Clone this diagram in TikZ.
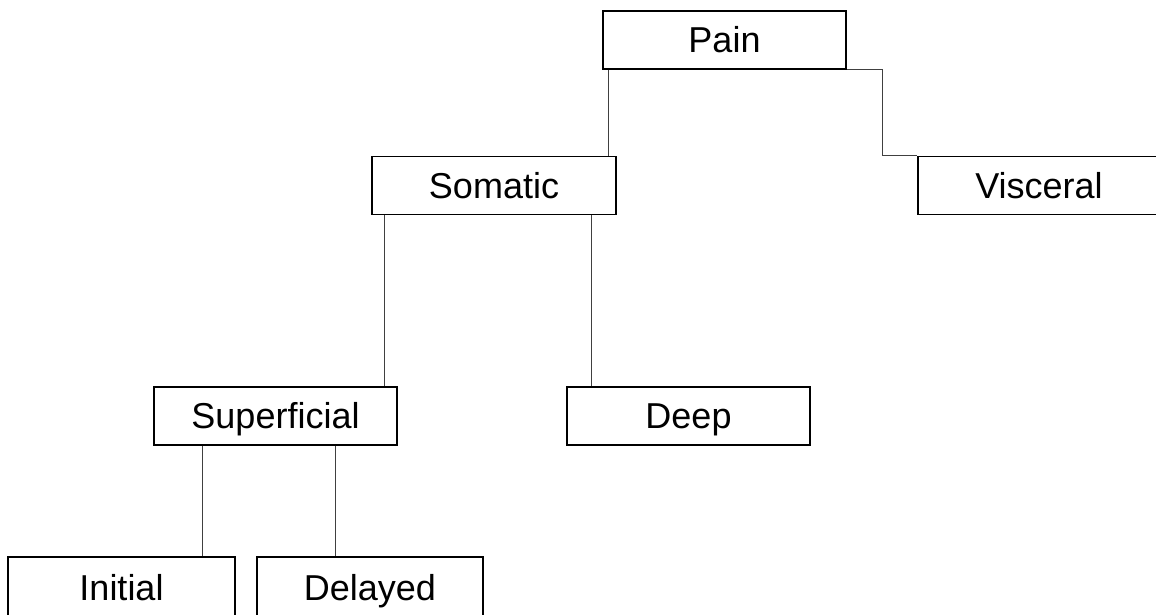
\documentclass[tikz,border=0pt]{standalone}
\usepackage{fontspec}
\setmainfont{Liberation Sans}
\begin{document}
\begin{tikzpicture}[x=1pt,y=-1pt,
  box/.style={draw=black, line width=1.8pt, rectangle, inner sep=0pt,
    minimum height=58pt, text height=25.5pt, text depth=0pt,
    font=\fontsize{36}{43}\selectfont},
  link/.style={draw=black!75, line width=1pt}]
\useasboundingbox (0,0) rectangle (1156,614);
\clip (0,0) rectangle (1156,614);
\node[box, minimum width=243pt] (P) at (724.5,40) {Pain};
\node[box, minimum width=244pt] (S) at (494,185.5) {Somatic};
\node[box, minimum width=242pt] (V) at (1039,185.5) {Visceral};
\node[box, minimum width=243pt] (Sup) at (275.5,416) {Superficial};
\node[box, minimum width=243pt] (D) at (688.5,416) {Deep};
\node[box, minimum width=227pt, minimum height=62pt] (I) at (121.5,588) {Initial};
\node[box, minimum width=226pt, minimum height=62pt] (Del) at (370,588) {Delayed};
\draw[link] ([xshift=6pt]P.south west) -- ([xshift=6pt]P.south west |- S.north);
\draw[link] (P.south east) -- ++(36,0) |- (V.north west);
\draw[link] ([xshift=13pt]S.south west) -- ([xshift=13pt]S.south west |- Sup.north);
\draw[link] ([xshift=-25pt]S.south east) -- ([xshift=-25pt]S.south east |- D.north);
\draw[link] ([xshift=49pt]Sup.south west) -- ([xshift=49pt]Sup.south west |- I.north);
\draw[link] ([xshift=182pt]Sup.south west) -- ([xshift=182pt]Sup.south west |- Del.north);
\end{tikzpicture}
\end{document}
